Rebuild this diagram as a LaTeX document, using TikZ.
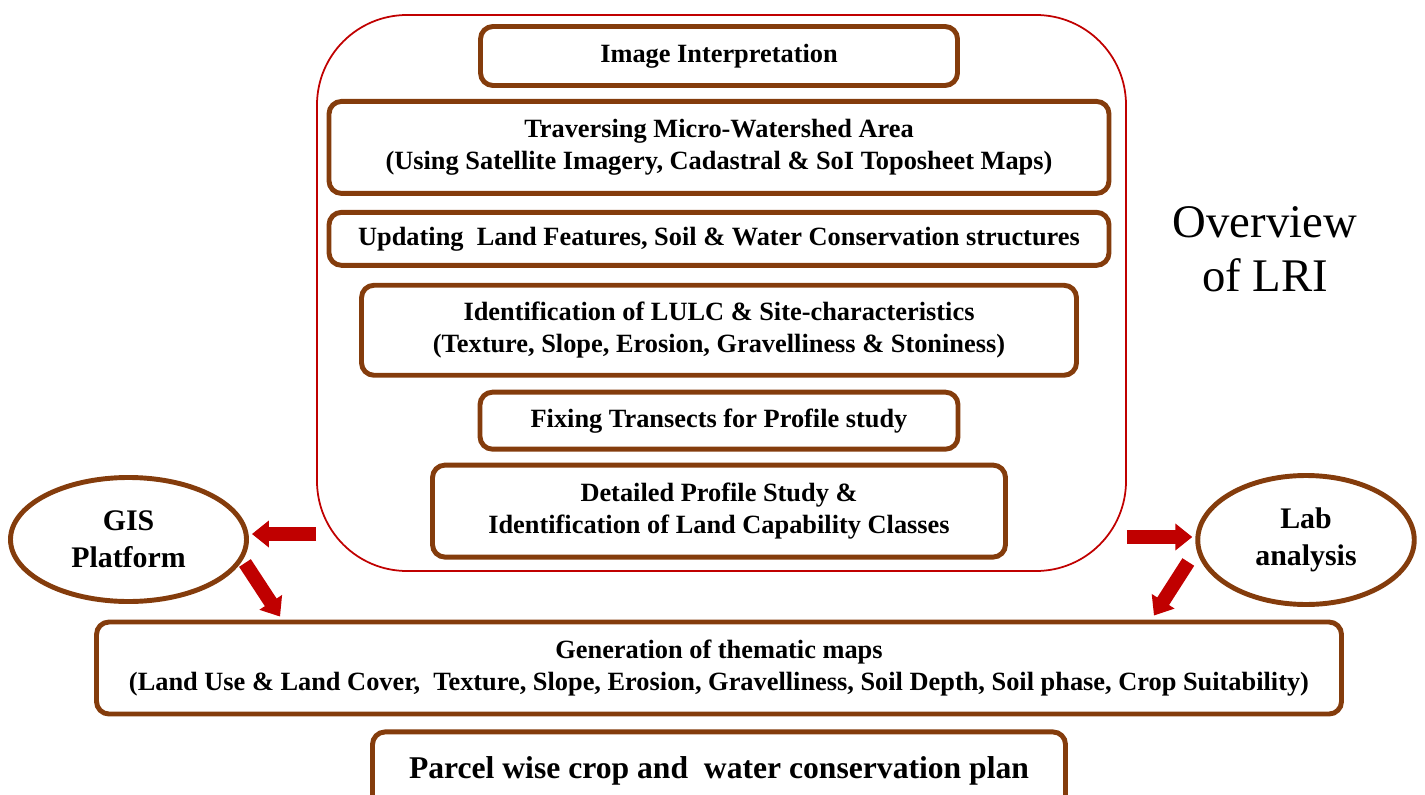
\documentclass[tikz,border=0pt]{standalone}
\usepackage{fontspec}
\setmainfont{Liberation Serif}
\usepackage{xcolor}
\usetikzlibrary{arrows.meta,positioning,shapes.geometric,calc}
\definecolor{lribrown}{HTML}{843C0C}
\definecolor{lrired}{HTML}{C00000}

\begin{document}
\begin{tikzpicture}[
    node distance=0.25cm,
    stage/.style={rectangle, rounded corners=0.25cm, draw=lribrown, line width=2.8pt, align=center, inner sep=2pt, font=\fontsize{15}{18}\selectfont\bfseries},
    tool/.style={ellipse, draw=lribrown, line width=2.8pt, align=center, inner sep=1pt, font=\fontsize{17}{21}\selectfont\bfseries},
    bigarrow/.style={-{Triangle[length=0.34cm, width=0.52cm]}, draw=lrired, line width=0.28cm}
]
\useasboundingbox (0,0) rectangle (28.5,-15.88);

% LRI frame
\node[draw=lrired, line width=1pt, rounded corners=1.8cm, minimum width=16.18cm, minimum height=11.12cm] (outer) at (14.43,-5.86) {};

% Stage nodes
\node[stage, minimum width=9.54cm, minimum height=1.18cm] (s1) at (14.38,-1.12) {Image Interpretation};
\node[stage, below=0.22cm of s1, minimum width=15.6cm, minimum height=1.84cm] (s2) {Traversing Micro-Watershed Area\\(Using Satellite Imagery, Cadastral \& SoI Toposheet Maps)};
\node[stage, below=0.28cm of s2, minimum width=15.6cm, minimum height=1.06cm] (s3) {Updating\ \ Land Features, Soil \& Water Conservation structures};
\node[stage, below=0.3cm of s3, minimum width=14.3cm, minimum height=1.8cm] (s4) {Identification of LULC \& Site-characteristics\\(Texture, Slope, Erosion, Gravelliness \& Stoniness)};
\node[stage, below=0.24cm of s4, minimum width=9.56cm, minimum height=1.14cm] (s5) {Fixing Transects for Profile study};
\node[stage, below=0.22cm of s5, minimum width=11.46cm, minimum height=1.84cm] (s6) {Detailed Profile Study \&\\Identification of Land Capability Classes};

\node[font=\fontsize{26.6}{30.6}\selectfont, align=center] (lri) at (25.3,-4.98) {Overview\\of LRI};

% Tool nodes
\node[tool, minimum width=4.72cm, minimum height=2.48cm] (gis) at (2.57,-10.79) {GIS\\Platform};
\node[tool, minimum width=4.33cm, minimum height=2.58cm] (lab) at (26.12,-10.8) {Lab\\analysis};

% Output nodes
\node[stage, below=1.2cm of s6, minimum width=24.9cm, minimum height=1.84cm] (thematic) {Generation of thematic maps\\(Land Use \& Land Cover,\ \ Texture, Slope, Erosion, Gravelliness, Soil Depth, Soil phase, Crop Suitability)};
\node[stage, below=0.26cm of thematic, minimum width=13.86cm, minimum height=1.54cm, font=\fontsize{18}{21}\selectfont\bfseries] (plan) {Parcel wise crop and\ \ water conservation plan};

% Arrows
\draw[bigarrow] ([yshift=0.11cm]outer.west |- gis.east) -- ([yshift=0.11cm, xshift=0.06cm]gis.east);
\draw[bigarrow] ([yshift=0.06cm]outer.east |- lab.west) -- ([yshift=0.06cm, xshift=-0.06cm]lab.west);
\draw[bigarrow] ($(gis.east)+(-0.08,-0.47)$) -- ($(thematic.north west)+(3.72,0.06)$);
\draw[bigarrow] ($(lab.west)+(-0.14,-0.44)$) -- ($(thematic.north east)+(-3.8,0.08)$);

\end{tikzpicture}
\end{document}
